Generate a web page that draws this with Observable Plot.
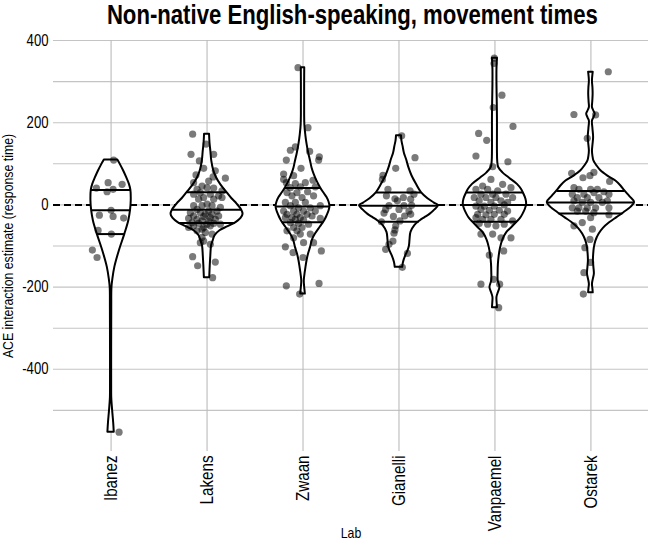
<!DOCTYPE html>
<html><head><meta charset="utf-8">
<script src="https://cdn.jsdelivr.net/npm/d3@7"></script>
<script src="https://cdn.jsdelivr.net/npm/@observablehq/plot@0.6"></script>
<style>
body{margin:0;background:#fff;}
#title{height:30px;line-height:31px;font-family:"Liberation Sans",Arial,sans-serif;font-weight:bold;font-size:27px;text-align:center;padding-left:53px;padding-right:1px;width:595px;color:#000;white-space:nowrap;}
#title span{display:inline-block;transform:scaleX(0.82);transform-origin:50% 50%;}
</style></head><body>
<div id="title"><span>Non-native English-speaking, movement times</span></div>
<div id="chart"></div>
<script>
const labs = ["Ibanez", "Lakens", "Zwaan", "Gianelli", "Vanpaemel", "Ostarek"];
const majorTicks = [-400, -200, 0, 200, 400];
const minorTicks = [-500, -300, -100, 100, 300];
const yTitle = "ACE interaction estimate (response time)";
const xTitle = "Lab";

// violin outlines: [value, half-width in category units]
const ibanezViolin = [[109,.070],[95,.104],[83,.130],[65,.165],[50,.191],[36,.206],[10,.210],[-13,.203],[-39,.184],[-71,.144],[-112,.086],[-152,.039],[-180,.019],[-202,.009],[-250,.007],[-350,.006],[-450,.006],[-470,.007],[-500,.016],[-530,.027],[-553,.033]];
const lakensViolin = [[172,.026],[150,.031],[130,.040],[107,.049],[85,.068],[66,.099],[48,.146],[30,.208],[15,.260],[2,.313],[-12,.359],[-23,.375],[-33,.354],[-43,.302],[-53,.219],[-63,.135],[-75,.083],[-88,.063],[-100,.047],[-125,.039],[-150,.033],[-177,.028]];
const zwaanViolin = [[334,.018],[300,.017],[250,.017],[196,.019],[170,.029],[148,.042],[125,.060],[107,.078],[90,.094],[75,.115],[58,.146],[42,.182],[30,.214],[18,.250],[7,.271],[-4,.281],[-15,.271],[-27,.250],[-35,.234],[-43,.214],[-55,.177],[-71,.130],[-85,.099],[-104,.078],[-120,.057],[-136,.042],[-152,.031],[-168,.021],[-185,.013],[-200,.017],[-209,.021],[-217,.024]];
const gianelliViolin = [[168,.026],[155,.031],[143,.042],[125,.057],[111,.078],[90,.104],[71,.135],[50,.182],[30,.234],[15,.302],[5,.365],[-2,.411],[-12,.375],[-23,.323],[-31,.271],[-39,.219],[-50,.167],[-67,.125],[-85,.115],[-100,.109],[-112,.094],[-124,.070],[-140,.047],[-152,.039]];
const vanpaemelViolin = [[357,.026],[330,.021],[293,.021],[250,.024],[212,.026],[170,.026],[131,.026],[105,.029],[91,.039],[78,.083],[66,.146],[50,.234],[38,.276],[26,.302],[14,.323],[2,.330],[-10,.318],[-23,.292],[-33,.266],[-43,.226],[-55,.177],[-67,.125],[-85,.083],[-104,.059],[-125,.044],[-144,.036],[-165,.033],[-185,.034],[-201,.052],[-213,.036],[-225,.021],[-240,.023],[-250,.026]];
const ostarekViolin = [[323,.024],[301,.016],[285,.021],[269,.023],[250,.019],[237,.016],[228,.031],[221,.044],[212,.031],[204,.016],[185,.021],[164,.028],[145,.021],[131,.016],[118,.021],[107,.031],[95,.063],[83,.104],[70,.177],[58,.260],[46,.313],[34,.354],[20,.406],[6,.455],[-6,.417],[-19,.344],[-31,.271],[-43,.198],[-57,.130],[-71,.086],[-88,.052],[-104,.036],[-120,.029],[-136,.026],[-152,.031],[-168,.036],[-180,.026],[-193,.016],[-205,.021],[-214,.024]];

// quartiles drawn inside each violin
const ibanezQuartiles = [36, -13, -71];
const lakensQuartiles = [31, -12, -44];
const zwaanQuartiles = [41, -4, -42];
const gianelliQuartiles = [30, -2, -41];
const vanpaemelQuartiles = [30, 0, -41];
const ostarekQuartiles = [34, 6, -21];

// points: [estimate, horizontal jitter in category units]
const ibanezPoints = [[109,0.027],[54,-0.031],[50,0.115],[41,-0.153],[38,0.021],[32,-0.042],[-13,0.000],[-25,-0.122],[-28,0.021],[-32,0.131],[-62,-0.135],[-71,0.003],[-110,-0.195],[-128,-0.146],[-553,0.083]];
const lakensPoints = [[172,-0.150],[148,-0.010],[123,-0.167],[123,0.069],[107,-0.080],[89,-0.035],[83,0.086],[73,-0.115],[68,0.063],[65,0.191],[54,-0.140],[58,0.017],[46,-0.052],[38,-0.104],[42,0.000],[41,0.069],[34,0.156],[30,-0.070],[26,-0.140],[26,0.034],[22,0.121],[18,-0.035],[14,-0.088],[14,0.069],[18,0.156],[2,0.000],[-2,-0.140],[-2,-0.052],[-2,0.052],[-6,0.139],[-11,-0.104],[-15,0.017],[-15,0.104],[-19,-0.174],[-19,-0.070],[-23,-0.018],[-23,0.052],[-27,-0.140],[-28,-0.035],[-31,0.034],[-27,0.121],[-33,-0.192],[-35,-0.104],[-39,-0.052],[-39,0.017],[-35,0.086],[-43,-0.156],[-45,-0.088],[-47,0.000],[-45,0.069],[-47,0.139],[-55,-0.192],[-55,-0.035],[-51,0.034],[-51,-0.140],[-59,-0.052],[-67,-0.018],[-63,-0.104],[-71,0.052],[-79,-0.052],[-88,-0.035],[-92,-0.070],[-96,0.034],[-126,-0.150],[-139,0.086],[-148,-0.098],[-177,0.058]];
const zwaanPoints = [[334,-0.052],[188,0.052],[141,-0.080],[133,-0.132],[130,0.069],[109,-0.174],[117,0.170],[109,0.163],[89,-0.021],[75,-0.202],[71,-0.098],[60,0.104],[62,-0.202],[54,-0.174],[52,-0.080],[54,0.024],[44,0.128],[42,-0.132],[44,-0.028],[32,0.048],[30,-0.167],[30,-0.063],[22,0.110],[22,-0.115],[18,-0.010],[6,-0.184],[6,-0.080],[6,0.024],[-2,0.180],[-2,-0.132],[-7,-0.046],[-7,0.076],[-15,-0.202],[-15,-0.098],[-15,0.006],[-15,0.128],[-23,-0.167],[-23,-0.063],[-23,0.042],[-31,-0.184],[-31,-0.115],[-31,-0.028],[-27,0.094],[-33,0.180],[-35,-0.080],[-37,0.006],[-43,-0.132],[-45,-0.046],[-47,0.058],[-55,-0.098],[-55,-0.010],[-63,-0.167],[-63,-0.063],[-71,-0.028],[-71,0.076],[-80,-0.098],[-92,0.006],[-92,0.110],[-102,-0.184],[-116,-0.104],[-112,0.191],[-128,0.000],[-197,-0.174],[-191,0.167],[-217,-0.035]];
const gianelliPoints = [[168,0.028],[115,0.167],[89,-0.034],[72,-0.167],[62,-0.173],[38,-0.115],[34,0.115],[26,0.156],[22,-0.131],[15,-0.042],[18,0.046],[14,0.122],[10,-0.017],[-2,-0.104],[-2,0.052],[-1,0.132],[-11,-0.139],[-11,0.000],[-15,0.104],[-20,-0.156],[-28,-0.058],[-27,0.059],[-23,0.122],[-41,-0.183],[-39,0.010],[-51,-0.034],[-61,-0.042],[-69,-0.052],[-88,-0.063],[-96,-0.104],[-108,-0.139],[-118,0.088],[-152,0.035]];
const vanpaemelPoints = [[357,-0.007],[344,-0.010],[267,0.073],[237,-0.018],[174,-0.170],[191,0.188],[157,-0.086],[119,-0.198],[105,0.135],[93,-0.024],[62,-0.042],[46,-0.128],[50,0.080],[42,0.167],[38,-0.198],[38,-0.076],[34,0.028],[26,-0.146],[26,-0.024],[26,0.115],[18,-0.216],[18,-0.094],[18,0.010],[18,0.184],[10,-0.164],[6,-0.042],[10,0.063],[6,0.132],[-3,-0.198],[-3,-0.111],[-3,-0.007],[0,0.097],[-11,-0.146],[-13,-0.059],[-13,0.045],[-15,0.132],[-23,-0.180],[-24,-0.094],[-23,-0.007],[-23,0.097],[-31,-0.198],[-35,-0.128],[-35,-0.042],[-35,0.063],[-39,0.184],[-45,-0.164],[-47,-0.076],[-51,0.010],[-47,0.097],[-71,-0.146],[-71,-0.024],[-80,0.063],[-80,0.167],[-122,-0.059],[-112,0.091],[-181,-0.014],[-193,-0.146],[-193,0.049],[-250,0.039]];
const ostarekPoints = [[324,0.181],[220,-0.177],[219,0.049],[162,-0.038],[77,-0.201],[66,-0.083],[71,-0.010],[79,0.031],[57,0.195],[42,-0.177],[38,-0.125],[38,-0.003],[38,0.067],[32,0.135],[26,-0.194],[26,-0.073],[30,0.031],[26,0.188],[18,-0.142],[18,-0.038],[18,0.083],[10,0.171],[10,-0.177],[6,-0.090],[6,-0.003],[6,0.119],[-7,-0.194],[-7,-0.125],[-7,-0.038],[-7,0.049],[-7,0.188],[-15,-0.142],[-15,-0.055],[-19,0.031],[-24,0.188],[-31,-0.003],[-43,-0.090],[-51,-0.177],[-59,0.015],[-84,-0.010],[-104,-0.063],[-140,-0.003],[-165,-0.073],[-217,-0.079]];

const profiles = [ibanezViolin, lakensViolin, zwaanViolin, gianelliViolin, vanpaemelViolin, ostarekViolin];
const quartiles = [ibanezQuartiles, lakensQuartiles, zwaanQuartiles, gianelliQuartiles, vanpaemelQuartiles, ostarekQuartiles];
const pointSets = [ibanezPoints, lakensPoints, zwaanPoints, gianelliPoints, vanpaemelPoints, ostarekPoints];

const FONT = '"Liberation Sans",Arial,sans-serif';

const violinRows = profiles.flatMap((p, i) => p.map(([v, w]) => ({i, v, w})));
const pointRows = pointSets.flatMap((p, i) => p.map(([v, j]) => ({i, v, j})));
function widthAt(p, v) {
  for (let k = 0; k < p.length - 1; k++) {
    const [v0, w0] = p[k], [v1, w1] = p[k + 1];
    if (v <= v0 && v >= v1) { const t = (v0 - v) / (v0 - v1); return w0 + t * (w1 - w0); }
  }
  return 0;
}
const quartRows = quartiles.flatMap((q, i) => q.map(v => ({i, v, w: widthAt(profiles[i], v)})));
const idx = labs.map((d, i) => i);

const chart = Plot.plot({
  width: 649, height: 511,
  marginTop: 10, marginBottom: 90, marginLeft: 53, marginRight: 1,
  style: {fontFamily: FONT, fontSize: "16px", color: "#000", background: "#fff", overflow: "visible"},
  x: {type: "linear", domain: [-0.6, 5.6], axis: null},
  y: {domain: [-600, 400], axis: null},
  marks: [
    Plot.gridY(majorTicks.concat(minorTicks), {stroke: "#c4c4c4", strokeOpacity: 1, strokeWidth: 1.1}),
    Plot.gridX(idx, {stroke: "#bbbbbb", strokeOpacity: 1, strokeWidth: 1.1}),
    Plot.axisY(majorTicks, {tickSize: 0, tickPadding: 5, tickFormat: d => String(d), fontSize: 16, label: null}),
    Plot.axisX(idx, {tickSize: 0, tickPadding: 4, tickRotate: -90, tickFormat: i => labs[i], fontSize: 18.5, label: null}),
    Plot.ruleY([0], {stroke: "black", strokeWidth: 2, strokeDasharray: "7,4"}),
    Plot.areaX(violinRows, {y: "v", x1: d => d.i - d.w, x2: d => d.i + d.w, z: "i", fill: "white", stroke: "black", strokeWidth: 2, strokeLinejoin: "round", curve: "catmull-rom"}),
    Plot.ruleY(quartRows, {y: "v", x1: d => d.i - d.w, x2: d => d.i + d.w, stroke: "black", strokeWidth: 2}),
    Plot.dot(pointRows, {x: d => d.i + d.j, y: "v", r: 3.6, fill: "black", fillOpacity: 0.52}),
    Plot.text([yTitle], {frameAnchor: "left", dx: -45, rotate: -90, textAnchor: "middle", lineAnchor: "middle", fontSize: 15}),
    Plot.text([xTitle], {frameAnchor: "bottom", dy: 82, textAnchor: "middle", lineAnchor: "middle", fontSize: 15})
  ]
});
document.getElementById("chart").appendChild(chart);
// narrow the glyphs to mimic a condensed face
chart.querySelectorAll("text").forEach(t => {
  const L = t.getComputedTextLength();
  if (L > 0) {
    t.setAttribute("textLength", (L * 0.82).toFixed(2));
    t.setAttribute("lengthAdjust", "spacingAndGlyphs");
  }
});
</script>
</body></html>
